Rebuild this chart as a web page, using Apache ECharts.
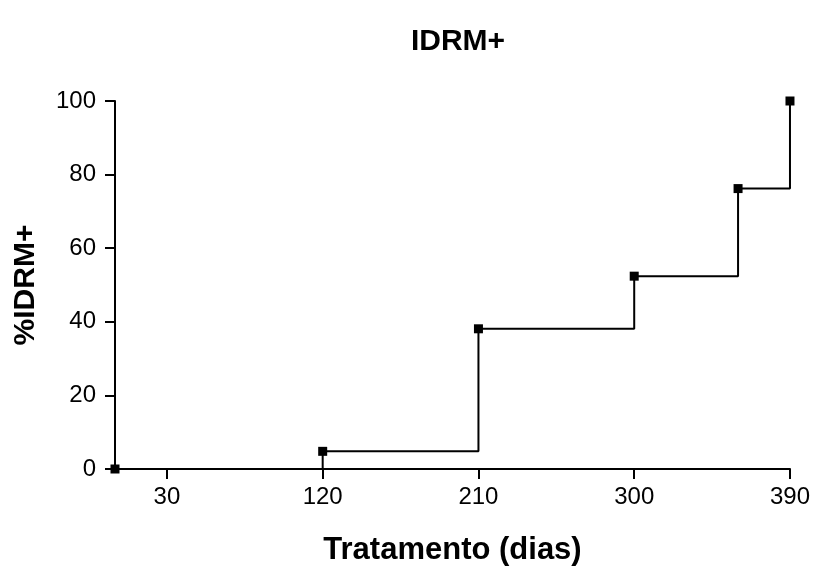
<!DOCTYPE html>
<html>
<head>
<meta charset="utf-8">
<style>
  html, body { margin: 0; padding: 0; background: #fff; }
  #chart { width: 813px; height: 571px; }
</style>
<script src="https://cdn.jsdelivr.net/npm/echarts@6/dist/echarts.min.js"></script>
</head>
<body>
<div id="chart"></div>
<script>
// Cumulative percentage of IDRM+ over treatment time (days)
const days = [0, 120, 210, 300, 360, 390];
const pctIDRM = [0, 4.8, 38.1, 52.4, 76.2, 100];
const xTickValues = [30, 120, 210, 300, 390];
const yTickValues = [0, 20, 40, 60, 80, 100];

const FONT = '"Liberation Sans", Arial, Helvetica, sans-serif';

const chart = echarts.init(document.getElementById('chart'), null, { renderer: 'canvas' });

chart.setOption({
  animation: false,
  backgroundColor: '#ffffff',
  title: {
    text: 'IDRM+',
    left: 453,
    textAlign: 'center',
    top: 22,
    textStyle: { fontFamily: FONT, fontWeight: 'bold', fontSize: 30, color: '#000' }
  },
  grid: { left: 115, right: 22, top: 101, bottom: 94, containLabel: false },
  xAxis: {
    type: 'value',
    min: 0,
    max: 390,
    name: 'Tratamento (dias)',
    nameLocation: 'middle',
    nameGap: 66,
    nameTextStyle: { fontFamily: FONT, fontWeight: 'bold', fontSize: 31, color: '#000' },
    axisLine: { show: true, onZero: false, lineStyle: { color: '#000', width: 2 } },
    axisTick: { show: true, length: 10, inside: false, customValues: xTickValues, lineStyle: { color: '#000', width: 2 } },
    axisLabel: { customValues: xTickValues, margin: 16, fontFamily: FONT, fontSize: 24, color: '#000' },
    splitLine: { show: false }
  },
  yAxis: {
    type: 'value',
    min: 0,
    max: 100,
    interval: 20,
    name: '%IDRM+',
    nameLocation: 'middle',
    nameGap: 74,
    nameRotate: 90,
    nameTextStyle: { fontFamily: FONT, fontWeight: 'bold', fontSize: 30, color: '#000' },
    axisLine: { show: true, lineStyle: { color: '#000', width: 2 } },
    axisTick: { show: true, length: 10, inside: false, lineStyle: { color: '#000', width: 2 } },
    axisLabel: { margin: 19, fontFamily: FONT, fontSize: 24, color: '#000',
      customValues: yTickValues },
    splitLine: { show: false }
  },
  series: [{
    type: 'line',
    step: 'end',
    data: days.map((d, i) => [d, pctIDRM[i]]),
    symbol: 'rect',
    symbolSize: 9,
    itemStyle: { color: '#000' },
    lineStyle: { color: '#000', width: 2 },
    clip: false,
    z: 5
  }]
});
</script>
</body>
</html>
